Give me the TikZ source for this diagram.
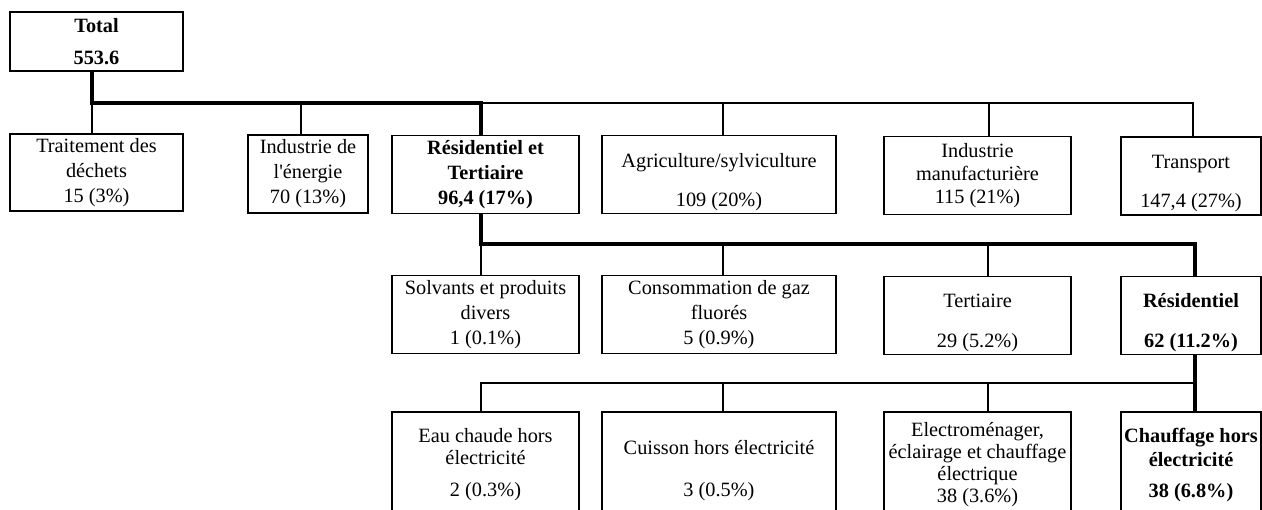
\documentclass[tikz,border=0pt]{standalone}
\usepackage{fontspec}
\setmainfont{Liberation Serif}[Ligatures=TeXOff]
\usetikzlibrary{calc}
\tikzset{
  box/.style={draw, line width=1.6pt, align=center, inner sep=0pt,
    font=\fontsize{20.3}{25}\selectfont},
  boldbox/.style={box, font=\fontsize{20.3}{25}\selectfont\bfseries},
  thinlink/.style={line width=1.6pt},
  thicklink/.style={line width=4pt},
}
\newcommand{\lowtext}[1]{\rule{0pt}{#1}}

\begin{document}
\begin{tikzpicture}[x=1pt,y=-1pt]
  \useasboundingbox (0,0) rectangle (1262,510);
  \clip (0,0) rectangle (1262,510);

  % Draw the total
  \node[boldbox, minimum width=173pt, minimum height=59pt] (tot) at (96.5,41.5) {Total\\[7pt]553.6};

  % Draw the sectors
  \node[box, minimum width=173pt, minimum height=77pt] (dech) at (96.5,172.5) {Traitement des\\déchets\\15 (3\%)};
  \node[box, minimum width=120pt, minimum height=78pt] (ener) at (308,174) {Industrie de\\l'énergie\\70 (13\%)};
  \node[boldbox, minimum width=187pt, minimum height=78pt] (rt) at (485.5,174.5) {Résidentiel et\\Tertiaire\\96,4 (17\%)};
  \node[box, minimum width=234pt, minimum height=78pt] (agri) at (719,174.5) {\lowtext{29pt}Agriculture/sylviculture\\[14pt]109 (20\%)};
  \node[box, minimum width=187pt, minimum height=78pt] (manuf) at (977.5,175.5) {Industrie\\[-2pt]manufacturière\\[-2pt]115 (21\%)};
  \node[box, minimum width=140pt, minimum height=78pt] (trans) at (1191,176) {\lowtext{29pt}Transport\\[14pt]147,4 (27\%)};

  % Draw the residential and tertiary split
  \node[box, minimum width=187pt, minimum height=78pt] (solv) at (485.5,314.5) {Solvants et produits\\divers\\1 (0.1\%)};
  \node[box, minimum width=234pt, minimum height=78pt] (gaz) at (719,314.5) {Consommation de gaz\\fluorés\\5 (0.9\%)};
  \node[box, minimum width=187pt, minimum height=78pt] (tert) at (977.5,315.5) {\lowtext{29pt}Tertiaire\\[15pt]29 (5.2\%)};
  \node[boldbox, minimum width=140pt, minimum height=78pt] (resid) at (1191,315.5) {\lowtext{29pt}Résidentiel\\[15pt]62 (11.2\%)};

  % Draw the residential uses
  \node[box, minimum width=187pt, minimum height=106pt] (eau) at (485.5,465) {Eau chaude hors\\[-3pt]électricité\\[7pt]2 (0.3\%)};
  \node[box, minimum width=234pt, minimum height=106pt] (cuis) at (719,465) {\lowtext{26pt}Cuisson hors électricité\\[17pt]3 (0.5\%)};
  \node[box, minimum width=187pt, minimum height=106pt] (elec) at (977.5,465) {Electroménager,\\[-3pt]éclairage et chauffage\\[-3pt]électrique\\[-3pt]38 (3.6\%)};
  \node[boldbox, minimum width=140pt, minimum height=106pt] (chauf) at (1191,465) {Chauffage hors\\[-1pt]électricité\\[6pt]38 (6.8\%)};

  % Entry points of the links
  \coordinate (dechin) at ([xshift=-4.5pt]dech.north);
  \coordinate (enerin) at ([xshift=-7pt]ener.north);
  \coordinate (rtin) at ([xshift=-4.5pt]rt.north);
  \coordinate (agriin) at ([xshift=4pt]agri.north);
  \coordinate (manufin) at ([xshift=11.5pt]manuf.north);
  \coordinate (transin) at ([xshift=2pt]trans.north);
  \coordinate (solvin) at ([xshift=-4.5pt]solv.north);
  \coordinate (gazin) at ([xshift=4pt]gaz.north);
  \coordinate (tertin) at ([xshift=10.5pt]tert.north);
  \coordinate (residin) at ([xshift=4pt]resid.north);
  \coordinate (eauin) at ([xshift=-4.5pt]eau.north);
  \coordinate (cuisin) at ([xshift=4pt]cuis.north);
  \coordinate (elecin) at ([xshift=10.5pt]elec.north);
  \coordinate (chaufin) at ([xshift=4pt]chauf.north);

  % Links from the total
  \coordinate (bus1) at (92,103);
  \draw[thinlink] (bus1) -- (dechin);
  \draw[thinlink] (rtin |- bus1) -| (transin);
  \draw[thinlink] (enerin |- bus1) -- (enerin);
  \draw[thinlink] (agriin |- bus1) -- (agriin);
  \draw[thinlink] (manufin |- bus1) -- (manufin);
  \draw[thicklink] ([xshift=-4.5pt]tot.south) -- (bus1) -| (rtin);

  % Links from residential and tertiary
  \coordinate (bus2) at (481,244);
  \draw[thinlink] (bus2) -- (solvin);
  \draw[thinlink] (gazin |- bus2) -- (gazin);
  \draw[thinlink] (tertin |- bus2) -- (tertin);
  \draw[thicklink] ([xshift=-4.5pt]rt.south) -- (bus2) -| (residin);

  % Links from residential
  \coordinate (bus3) at (481,383);
  \draw[thinlink] (eauin) -- (bus3) -- (bus3 -| chaufin);
  \draw[thinlink] (cuisin |- bus3) -- (cuisin);
  \draw[thinlink] (elecin |- bus3) -- (elecin);
  \draw[thicklink] ([xshift=4pt]resid.south) -- (chaufin);
\end{tikzpicture}
\end{document}
